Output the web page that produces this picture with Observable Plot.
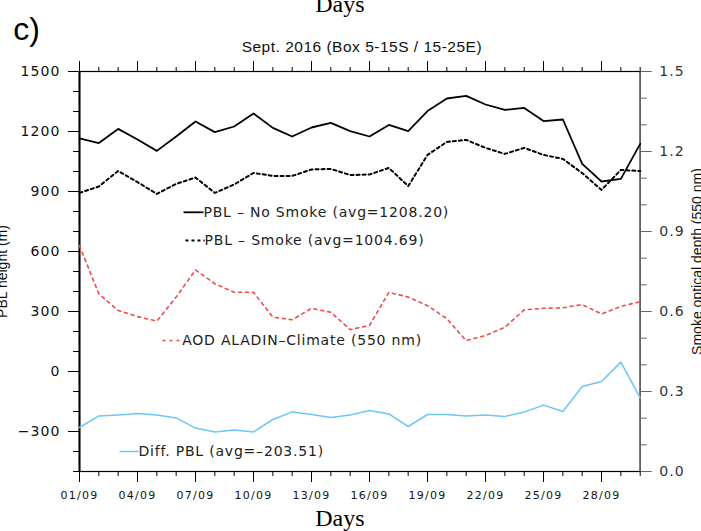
<!DOCTYPE html>
<html>
<head>
<meta charset="utf-8">
<script src="https://cdn.jsdelivr.net/npm/d3@7"></script>
<script src="https://cdn.jsdelivr.net/npm/@observablehq/plot@0.6"></script>
<style>
  html, body { margin: 0; padding: 0; background: white; overflow: hidden; }
  svg { display: block; }
  g[aria-label="x-axis tick label"] text { letter-spacing: 1.3px; }
  g[aria-label="y-axis tick label"] text { letter-spacing: 1.1px; }
</style>
</head>
<body>
<div id="chart"></div>
<script>
// ---- data (Sept. 2016, Box 5-15S / 15-25E) ----
const days = [1,2,3,4,5,6,7,8,9,10,11,12,13,14,15,16,17,18,19,20,21,22,23,24,25,26,27,28,29,30];
const pblNoSmoke = [1166,1142,1213,1160,1103,1175,1250,1197,1225,1290,1218,1175,1220,1243,1202,
                    1175,1233,1202,1302,1365,1378,1335,1308,1318,1252,1260,1038,950,963,1138];
const pblSmoke   = [893,925,1003,947,888,938,970,893,935,993,978,978,1010,1013,982,
                    985,1018,927,1083,1148,1158,1118,1088,1118,1083,1063,992,908,1008,1002];
const aodAladin  = [0.847,0.666,0.604,0.581,0.564,0.654,0.756,0.704,0.672,0.672,0.579,0.569,0.612,0.597,0.532,
                    0.548,0.672,0.654,0.622,0.573,0.491,0.510,0.541,0.606,0.612,0.614,0.626,0.591,0.619,0.637];
const diffPbl    = [-280,-222,-217,-210,-217,-232,-283,-302,-292,-302,-240,-202,-215,-230,-217,
                    -195,-212,-275,-215,-215,-222,-217,-225,-203,-168,-200,-75,-50,47,-132];

const xTickDays   = [1,4,7,10,13,16,19,22,25,28];
const xTickLabels = ["01/09","04/09","07/09","10/09","13/09","16/09","19/09","22/09","25/09","28/09"];
const leftTicks   = [-300,0,300,600,900,1200,1500];
const rightTicks  = [0.0,0.3,0.6,0.9,1.2,1.5];

const legendLabels = ["PBL \u2013 No Smoke (avg=1208.20)", "PBL \u2013 Smoke (avg=1004.69)",
                      "AOD ALADIN\u2013Climate (550 nm)", "Diff. PBL (avg=\u2013203.51)"];
const legendX0 = [6.38, 6.48, 5.29, 3.07];
const legendX1 = [7.41, 7.47, 6.31, 4.05];
const legendY  = [796, 655, 155, -400];

const titleText = "Sept. 2016 (Box 5-15S / 15-25E)";

// ---- styling ----
const colNoSmoke = "#000000", colSmoke = "#000000", colAod = "#f04a4a", colDiff = "#6cc6f6";
const legendColors = [colNoSmoke, colSmoke, colAod, colDiff];
const legendDash = [null, "3,3", "3,4", null];
const legendWidth = [1.8, 2, 1.6, 1.5];

// right axis (AOD 0..1.5) mapped onto left scale (-500..1500)
const yMin = -500, yMax = 1500, aMax = 1.5;
const toLeft = a => yMin + a * (yMax - yMin) / aMax;
const fromLeft = v => (v - yMin) * aMax / (yMax - yMin);

const ncl = "DejaVu Sans";
const fmtLeft = d => d < 0 ? "\u2212" + Math.abs(d) : String(d);

const marks = [
  Plot.frame({stroke: "#000", strokeWidth: 1.2}),
  Plot.ruleX([1], {stroke: "#000", strokeWidth: 2}),
  Plot.ruleX([30], {stroke: "#666", strokeWidth: 1.5}),
  // minor ticks
  Plot.axisX(days, {anchor: "bottom", tickSize: 5, tickFormat: () => "", stroke: "#000"}),
  Plot.axisX(days, {anchor: "top", tickSize: 5, tickFormat: () => "", stroke: "#000"}),
  Plot.axisY(d3.range(yMin, yMax + 1, 100), {anchor: "left", tickSize: 6, tickFormat: () => "", stroke: "#000"}),
  Plot.axisY(d3.range(0, 16).map(i => toLeft(i / 10)), {anchor: "right", tickSize: 6, tickFormat: () => "", stroke: "#666"}),
  // major ticks + labels
  Plot.axisX(xTickDays, {anchor: "bottom", tickSize: 11, tickPadding: 9, stroke: "#000",
    tickFormat: d => xTickLabels[xTickDays.indexOf(d)],
    fontFamily: ncl, fontSize: 11, fill: "#111"}),
  Plot.axisX(xTickDays, {anchor: "top", tickSize: 11, tickFormat: () => "", stroke: "#000"}),
  Plot.axisY(leftTicks, {anchor: "left", tickSize: 11, tickPadding: 8, stroke: "#000",
    tickFormat: fmtLeft, fontFamily: ncl, fontSize: 14, fill: "#111"}),
  Plot.axisY(rightTicks.map(toLeft), {anchor: "right", tickSize: 11, tickPadding: 8, stroke: "#666",
    tickFormat: v => fromLeft(v).toFixed(1), fontFamily: ncl, fontSize: 14, fill: "#333"}),
  // data lines
  Plot.line(days, {x: d => d, y: (d, i) => toLeft(aodAladin[i]), stroke: colAod, strokeWidth: 1.6, strokeDasharray: "3,4"}),
  Plot.line(days, {x: d => d, y: (d, i) => diffPbl[i], stroke: colDiff, strokeWidth: 1.5}),
  Plot.line(days, {x: d => d, y: (d, i) => pblSmoke[i], stroke: colSmoke, strokeWidth: 2, strokeDasharray: "3,3"}),
  Plot.line(days, {x: d => d, y: (d, i) => pblNoSmoke[i], stroke: colNoSmoke, strokeWidth: 1.8}),
  // legend
  ...legendLabels.map((lab, i) => Plot.link([i], {
    x1: () => legendX0[i], x2: () => legendX1[i], y1: () => legendY[i], y2: () => legendY[i],
    stroke: legendColors[i], strokeWidth: legendWidth[i], strokeDasharray: legendDash[i] || undefined
  })),
  Plot.text(legendLabels, {x: (d, i) => legendX1[i], y: (d, i) => legendY[i], text: d => d,
    textAnchor: "start", lineAnchor: "middle", fontFamily: ncl, fontSize: 14, fill: "#222"}),
  // titles and axis labels
  Plot.text(["c)"], {frameAnchor: "top-left", dx: -53, dy: -42, textAnchor: "middle", lineAnchor: "middle",
    fontFamily: "Liberation Sans", fontSize: 32, fill: "#000"}),
  Plot.text([titleText], {frameAnchor: "top", dx: 2, dy: -24, textAnchor: "middle", lineAnchor: "middle",
    fontFamily: "Liberation Sans", fontSize: 15.5, fill: "#111"}),
  Plot.text(["Days"], {frameAnchor: "top", dx: -20, dy: -66.7, textAnchor: "middle", lineAnchor: "middle",
    fontFamily: "Liberation Serif", fontSize: 24, fill: "#000"}),
  Plot.text(["Days"], {frameAnchor: "bottom", dx: -20, dy: 47.3, textAnchor: "middle", lineAnchor: "middle",
    fontFamily: "Liberation Serif", fontSize: 24, fill: "#000"}),
  Plot.text(["PBL height (m)"], {frameAnchor: "left", dx: -77, rotate: -90, textAnchor: "middle", lineAnchor: "middle",
    fontFamily: "Liberation Sans", fontSize: 14, fill: "#111"}),
  Plot.text(["Smoke optical depth (550 nm)"], {frameAnchor: "right", dx: 57.8, dy: -10, rotate: -90, textAnchor: "middle", lineAnchor: "middle",
    fontFamily: "Liberation Sans", fontSize: 14, fill: "#111"})
];

const chart = Plot.plot({
  width: 701, height: 531,
  marginLeft: 79, marginRight: 61.3, marginTop: 71, marginBottom: 60,
  x: {domain: [1, 30], axis: null},
  y: {domain: [yMin, yMax], axis: null},
  style: {background: "white", overflow: "visible", color: "#000"},
  marks
});
// NCL-style wide text spacing
d3.select(chart).selectAll("text")
  .filter(function() { return legendLabels.includes(this.textContent); })
  .style("letter-spacing", "0.8px");
d3.select(chart).selectAll("text")
  .filter(function() { return this.textContent === titleText; })
  .style("letter-spacing", "0.5px");
document.getElementById("chart").appendChild(chart);
</script>
</body>
</html>
